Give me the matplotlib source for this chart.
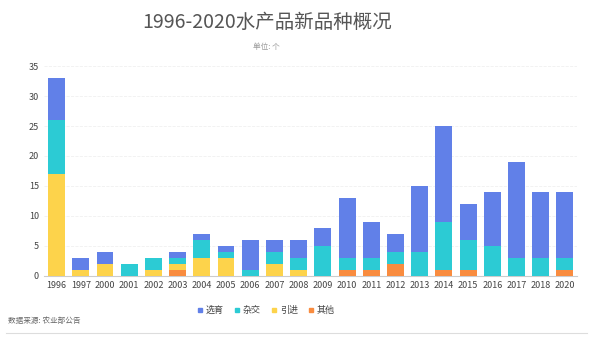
import matplotlib.pyplot as plt
import numpy as np
from matplotlib.lines import Line2D

plt.rcParams['font.family'] = ['Noto Sans CJK SC', 'DejaVu Sans']

years = ['1996', '1997', '2000', '2001', '2002', '2003', '2004', '2005', '2006', '2007', '2008',
         '2009', '2010', '2011', '2012', '2013', '2014', '2015', '2016', '2017', '2018', '2020']
other = [0, 0, 0, 0, 0, 1, 0, 0, 0, 0, 0, 0, 1, 1, 2, 0, 1, 1, 0, 0, 0, 1]      # 其他
intro = [17, 1, 2, 0, 1, 1, 3, 3, 0, 2, 1, 0, 0, 0, 0, 0, 0, 0, 0, 0, 0, 0]     # 引进
cross = [9, 0, 0, 2, 2, 1, 3, 1, 1, 2, 2, 5, 2, 2, 2, 4, 8, 5, 5, 3, 3, 2]      # 杂交
breed = [7, 2, 2, 0, 0, 1, 1, 1, 5, 2, 3, 3, 10, 6, 3, 11, 16, 6, 9, 16, 11, 11]  # 选育

series = [('其他', other, '#f98c3f'), ('引进', intro, '#fdd34b'),
          ('杂交', cross, '#2ccbd4'), ('选育', breed, '#6180e8')]

fig = plt.figure(figsize=(5.93, 3.44), dpi=100)
ax = fig.add_axes([0.075, 0.198, 0.898, 0.61])

x = np.arange(len(years))
bottom = np.zeros(len(years))
for name, vals, col in series:
    ax.bar(x, vals, 0.7, bottom=bottom, color=col, zorder=3)
    bottom += np.array(vals)

ax.set_xlim(-0.5, 21.5)
ax.set_ylim(0, 35)
ax.set_yticks(range(0, 36, 5))
ax.set_xticks(x)
ax.set_xticklabels(years)
ax.tick_params(axis='both', length=0, labelsize=6.5, colors='#444444')
ax.tick_params(axis='y', pad=4)
ax.tick_params(axis='x', pad=4)
ax.grid(axis='y', color='#f0f0f0', lw=0.6, ls='--', zorder=0)
for s in ['top', 'right', 'left']:
    ax.spines[s].set_visible(False)
ax.spines['bottom'].set_color('#cccccc')
ax.spines['bottom'].set_linewidth(0.8)

fig.text(0.45, 0.935, '1996-2020水产品新品种概况', ha='center', va='center',
         fontsize=14, color='#555555')
fig.text(0.45, 0.862, '单位: 个', ha='center', va='center', fontsize=5.5, color='#999999')

handles = [Line2D([], [], marker='s', ls='', color=c, markersize=3.5)
           for c in ['#6180e8', '#2ccbd4', '#fdd34b', '#f98c3f']]
fig.legend(handles, ['选育', '杂交', '引进', '其他'], loc='center', bbox_to_anchor=(0.447, 0.097),
           ncol=4, frameon=False, fontsize=6.5, handletextpad=0.2, columnspacing=0.9,
           handlelength=1.0, labelcolor='#444444')

fig.text(0.013, 0.066, '数据来源: 农业部公告', ha='left', va='center', fontsize=5.5, color='#666666')
fig.add_artist(Line2D([0.01, 0.99], [0.032, 0.032], color='#dddddd', lw=0.8))

fig.savefig('out.png', dpi=100, facecolor='white')
